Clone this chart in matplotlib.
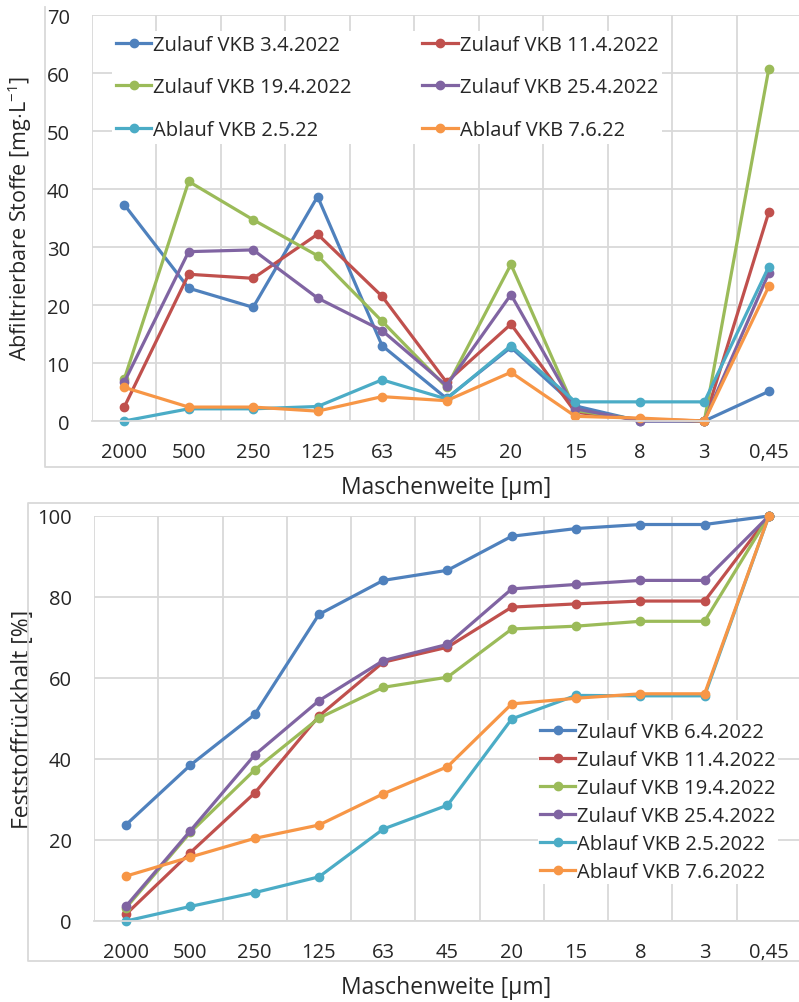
import matplotlib
matplotlib.use("Agg")
import matplotlib.pyplot as plt
from matplotlib.lines import Line2D

plt.rcParams['font.family'] = ['Open Sans', 'DejaVu Sans']
plt.rcParams['mathtext.fontset'] = 'custom'
plt.rcParams['mathtext.rm'] = 'Open Sans'
plt.rcParams['mathtext.it'] = 'Open Sans'

# Maschenweiten der Siebfraktionen
sieves = ["2000", "500", "250", "125", "63", "45", "20", "15", "8", "3", "0,45"]

# Abfiltrierbare Stoffe je Fraktion [mg/L]
afs_zulauf_0304 = [37.3, 22.9, 19.6, 38.7, 13.0, 3.9, 12.7, 2.6, 0.0, 0.0, 5.1]
afs_zulauf_1104 = [2.4, 25.3, 24.6, 32.2, 21.5, 6.7, 16.7, 1.5, 0.3, 0.0, 36.0]
afs_zulauf_1904 = [7.2, 41.3, 34.7, 28.5, 17.2, 5.8, 27.0, 1.8, 0.2, 0.0, 60.7]
afs_zulauf_2504 = [6.7, 29.2, 29.5, 21.2, 15.6, 6.1, 21.8, 2.1, 0.0, 0.0, 25.5]
afs_ablauf_0205 = [0.0, 2.1, 2.1, 2.5, 7.1, 3.8, 13.0, 3.3, 3.3, 3.3, 26.6]
afs_ablauf_0706 = [5.8, 2.4, 2.4, 1.7, 4.2, 3.5, 8.4, 0.8, 0.5, 0.0, 23.2]

# Kumulativer Feststoffrueckhalt [%]
ret_zulauf_0604 = [23.8, 38.5, 51.0, 75.7, 84.1, 86.6, 95.0, 96.9, 97.9, 97.9, 100]
ret_zulauf_1104 = [1.7, 16.9, 31.6, 50.6, 63.9, 67.6, 77.5, 78.3, 79.0, 79.0, 100]
ret_zulauf_1904 = [3.3, 21.9, 37.3, 50.1, 57.7, 60.2, 72.1, 72.8, 74.0, 74.0, 100]
ret_zulauf_2504 = [3.7, 22.3, 41.0, 54.4, 64.3, 68.3, 82.0, 83.1, 84.1, 84.1, 100]
ret_ablauf_0205 = [0.0, 3.6, 7.0, 10.9, 22.7, 28.6, 49.9, 55.7, 55.6, 55.6, 100]
ret_ablauf_0706 = [11.1, 15.8, 20.4, 23.7, 31.4, 38.1, 53.6, 55.0, 56.1, 56.1, 100]

blue, red, green = "#4F81BD", "#C0504D", "#9BBB59"
purple, cyan, orange = "#8064A2", "#4BACC6", "#F79646"
grid_col = "#D9D9D9"
txt_col = "#262626"
fs = 14.5
fs_label = 16.5

fig = plt.figure(figsize=(7.99, 10.03), dpi=100)
W, H = 799, 1003


def px_axes(left, top, right, bottom):
    return fig.add_axes([left / W, 1 - bottom / H, (right - left) / W, (bottom - top) / H])


def style(ax, ymax, ystep):
    x = list(range(len(sieves)))
    ax.set_xlim(-0.5, len(sieves) - 0.5)
    ax.set_ylim(0, ymax)
    ax.set_xticks(x, sieves)
    ax.set_xticks([i - 0.5 for i in range(len(sieves) + 1)], minor=True)
    ax.set_yticks(range(0, ymax + 1, ystep))
    ax.grid(axis="x", which="minor", color=grid_col, lw=1.3)
    ax.grid(axis="y", which="major", color=grid_col, lw=1.3)
    ax.set_axisbelow(True)
    for s in ["top", "right", "left"]:
        ax.spines[s].set_visible(False)
    ax.spines["bottom"].set_color(grid_col)
    ax.spines["bottom"].set_linewidth(1.3)
    ax.tick_params(which="both", length=0, labelsize=fs, colors=txt_col)
    ax.tick_params(axis="x", pad=15)
    ax.tick_params(axis="y", pad=16)


def series(ax, vals, col, lab):
    return ax.plot(range(len(sieves)), vals, color=col, lw=2.3, marker="o",
                   markersize=6, label=lab, clip_on=False)[0]


# --- oben: abfiltrierbare Stoffe ---
ax1 = px_axes(92, 16, 801, 422)
style(ax1, 70, 10)
h1 = series(ax1, afs_zulauf_0304, blue, "Zulauf VKB 3.4.2022")
h2 = series(ax1, afs_zulauf_1104, red, "Zulauf VKB 11.4.2022")
h3 = series(ax1, afs_zulauf_1904, green, "Zulauf VKB 19.4.2022")
h4 = series(ax1, afs_zulauf_2504, purple, "Zulauf VKB 25.4.2022")
h5 = series(ax1, afs_ablauf_0205, cyan, "Ablauf VKB 2.5.22")
h6 = series(ax1, afs_ablauf_0706, orange, "Ablauf VKB 7.6.22")
order = [h1, h3, h5, h2, h4, h6]
leg1 = ax1.legend(order, [h.get_label() for h in order],
                  ncol=2, loc="upper left", bbox_to_anchor=(0.0285, 0.96),
                  frameon=True, framealpha=1, edgecolor="none", fontsize=fs,
                  handlelength=1.75, handletextpad=0.1, labelspacing=1.1,
                  columnspacing=3.5, borderaxespad=0, borderpad=0.2)
for t in leg1.get_texts():
    t.set_color(txt_col)
ax1.set_ylabel("Abfiltrierbare Stoffe [mg$\\cdot$L$^{-1}$]", fontsize=fs + 1,
               color=txt_col)
ax1.yaxis.set_label_coords(-58 / 709, 0.5)
fig.text(446 / W, 1 - 488 / H, "Maschenweite [µm]", ha="center", va="center",
         fontsize=fs_label, color=txt_col)

# --- unten: Feststoffrueckhalt ---
ax2 = px_axes(94, 517, 801, 922)
style(ax2, 100, 20)
g = [series(ax2, ret_zulauf_0604, blue, "Zulauf VKB 6.4.2022"),
     series(ax2, ret_zulauf_1104, red, "Zulauf VKB 11.4.2022"),
     series(ax2, ret_zulauf_1904, green, "Zulauf VKB 19.4.2022"),
     series(ax2, ret_zulauf_2504, purple, "Zulauf VKB 25.4.2022"),
     series(ax2, ret_ablauf_0205, cyan, "Ablauf VKB 2.5.2022"),
     series(ax2, ret_ablauf_0706, orange, "Ablauf VKB 7.6.2022")]
leg2 = ax2.legend(handles=g, loc="upper left", bbox_to_anchor=(444 / 707, 0.496),
                  frameon=True, framealpha=1, edgecolor="none", fontsize=fs,
                  handlelength=1.75, handletextpad=0.1, labelspacing=0.4,
                  borderaxespad=0, borderpad=0.1)
for t in leg2.get_texts():
    t.set_color(txt_col)
ax2.set_ylabel("Feststoffrückhalt [%]", fontsize=fs_label, color=txt_col)
ax2.yaxis.set_label_coords(-59 / 707, 0.5)
fig.text(446 / W, 1 - 988 / H, "Maschenweite [µm]", ha="center", va="center",
         fontsize=fs_label, color=txt_col)


# Rahmen der beiden Diagrammflaechen
def frame_line(xs, ys):
    fig.add_artist(Line2D([x / W for x in xs], [1 - y / H for y in ys],
                          color=grid_col, lw=1.3))


frame_line([45, 45, 801], [8, 468, 468])
frame_line([801, 28, 28, 801], [504, 504, 962, 962])

fig.savefig("out.png", dpi=100)
